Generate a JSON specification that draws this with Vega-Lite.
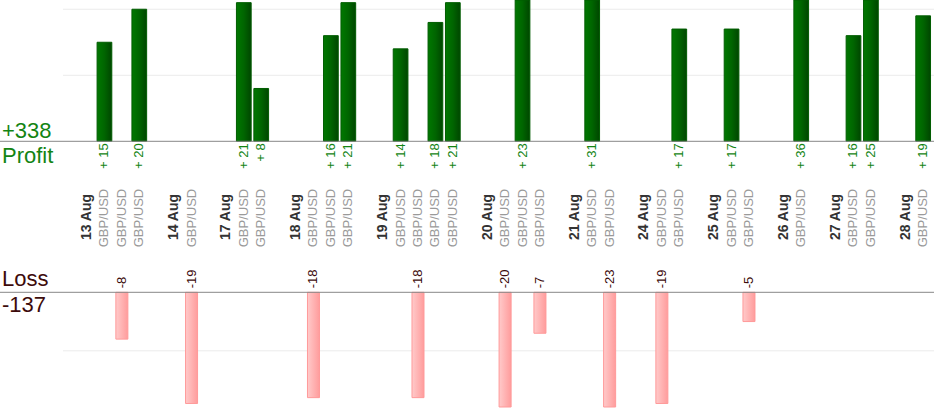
{
  "$schema": "https://vega.github.io/schema/vega-lite/v6.json",
  "width": 934,
  "height": 420,
  "autosize": {"type": "none"},
  "padding": 0,
  "config": {"view": {"stroke": null}, "font": "Liberation Sans"},
  "data": {
    "values": [
      {"s": "13 Aug", "kind": "date", "label": "13 Aug"},
      {"s": "13 Aug #1", "kind": "trade", "label": "GBP/USD", "pl": 15},
      {"s": "13 Aug #2", "kind": "trade", "label": "GBP/USD", "pl": -8},
      {"s": "13 Aug #3", "kind": "trade", "label": "GBP/USD", "pl": 20},
      {"s": "14 Aug", "kind": "date", "label": "14 Aug"},
      {"s": "14 Aug #1", "kind": "trade", "label": "GBP/USD", "pl": -19},
      {"s": "17 Aug", "kind": "date", "label": "17 Aug"},
      {"s": "17 Aug #1", "kind": "trade", "label": "GBP/USD", "pl": 21},
      {"s": "17 Aug #2", "kind": "trade", "label": "GBP/USD", "pl": 8},
      {"s": "18 Aug", "kind": "date", "label": "18 Aug"},
      {"s": "18 Aug #1", "kind": "trade", "label": "GBP/USD", "pl": -18},
      {"s": "18 Aug #2", "kind": "trade", "label": "GBP/USD", "pl": 16},
      {"s": "18 Aug #3", "kind": "trade", "label": "GBP/USD", "pl": 21},
      {"s": "19 Aug", "kind": "date", "label": "19 Aug"},
      {"s": "19 Aug #1", "kind": "trade", "label": "GBP/USD", "pl": 14},
      {"s": "19 Aug #2", "kind": "trade", "label": "GBP/USD", "pl": -18},
      {"s": "19 Aug #3", "kind": "trade", "label": "GBP/USD", "pl": 18},
      {"s": "19 Aug #4", "kind": "trade", "label": "GBP/USD", "pl": 21},
      {"s": "20 Aug", "kind": "date", "label": "20 Aug"},
      {"s": "20 Aug #1", "kind": "trade", "label": "GBP/USD", "pl": -20},
      {"s": "20 Aug #2", "kind": "trade", "label": "GBP/USD", "pl": 23},
      {"s": "20 Aug #3", "kind": "trade", "label": "GBP/USD", "pl": -7},
      {"s": "21 Aug", "kind": "date", "label": "21 Aug"},
      {"s": "21 Aug #1", "kind": "trade", "label": "GBP/USD", "pl": 31},
      {"s": "21 Aug #2", "kind": "trade", "label": "GBP/USD", "pl": -23},
      {"s": "24 Aug", "kind": "date", "label": "24 Aug"},
      {"s": "24 Aug #1", "kind": "trade", "label": "GBP/USD", "pl": -19},
      {"s": "24 Aug #2", "kind": "trade", "label": "GBP/USD", "pl": 17},
      {"s": "25 Aug", "kind": "date", "label": "25 Aug"},
      {"s": "25 Aug #1", "kind": "trade", "label": "GBP/USD", "pl": 17},
      {"s": "25 Aug #2", "kind": "trade", "label": "GBP/USD", "pl": -5},
      {"s": "26 Aug", "kind": "date", "label": "26 Aug"},
      {"s": "26 Aug #1", "kind": "trade", "label": "GBP/USD", "pl": 36},
      {"s": "27 Aug", "kind": "date", "label": "27 Aug"},
      {"s": "27 Aug #1", "kind": "trade", "label": "GBP/USD", "pl": 16},
      {"s": "27 Aug #2", "kind": "trade", "label": "GBP/USD", "pl": 25},
      {"s": "28 Aug", "kind": "date", "label": "28 Aug"},
      {"s": "28 Aug #1", "kind": "trade", "label": "GBP/USD", "pl": 19}
    ]
  },
  "encoding": {
    "x": {
      "field": "s",
      "type": "nominal",
      "axis": null,
      "scale": {
        "type": "band",
        "domain": ["start", "13 Aug", "13 Aug #1", "13 Aug #2", "13 Aug #3", "13 Aug end", "14 Aug", "14 Aug #1", "14 Aug end", "17 Aug", "17 Aug #1", "17 Aug #2", "17 Aug end", "18 Aug", "18 Aug #1", "18 Aug #2", "18 Aug #3", "18 Aug end", "19 Aug", "19 Aug #1", "19 Aug #2", "19 Aug #3", "19 Aug #4", "19 Aug end", "20 Aug", "20 Aug #1", "20 Aug #2", "20 Aug #3", "20 Aug end", "21 Aug", "21 Aug #1", "21 Aug #2", "21 Aug end", "24 Aug", "24 Aug #1", "24 Aug #2", "24 Aug end", "25 Aug", "25 Aug #1", "25 Aug #2", "25 Aug end", "26 Aug", "26 Aug #1", "26 Aug end", "27 Aug", "27 Aug #1", "27 Aug #2", "27 Aug end", "28 Aug", "28 Aug #1", "28 Aug end"],
        "range": [60.9, 949.3],
        "paddingInner": 0,
        "paddingOuter": 0
      }
    }
  },
  "layer": [
    {
      "data": {"values": [{"tick": 10}, {"tick": 20}]},
      "mark": {"type": "rule", "color": "#ebebeb", "strokeWidth": 1},
      "encoding": {
        "x": {"value": 63},
        "x2": {"value": 934},
        "y": {"field": "tick", "type": "quantitative", "axis": null, "scale": {"domain": [0, 21.4], "range": [141.3, 0], "nice": false, "zero": false}}
      }
    },
    {
      "data": {"values": [{"tick": -10}]},
      "mark": {"type": "rule", "color": "#ebebeb", "strokeWidth": 1},
      "encoding": {
        "x": {"value": 63},
        "x2": {"value": 934},
        "y": {"field": "tick", "type": "quantitative", "axis": null, "scale": {"domain": [-19.6, 0], "range": [407, 292.3], "nice": false, "zero": false}}
      }
    },
    {
      "transform": [{"filter": "datum.pl > 0"}],
      "mark": {
        "type": "bar",
        "width": {"band": 0.845},
        "stroke": "#005c00",
        "strokeWidth": 1,
        "color": {
          "gradient": "linear",
          "x1": 0, "y1": 0, "x2": 1, "y2": 0,
          "stops": [
            {"offset": 0, "color": "#007800"},
            {"offset": 0.5, "color": "#006500"},
            {"offset": 1, "color": "#004600"}
          ]
        }
      },
      "encoding": {
        "y": {"field": "pl", "type": "quantitative", "stack": null, "axis": null, "scale": {"domain": [0, 21.4], "range": [141.3, 0], "clamp": true, "nice": false, "zero": false}}
      }
    },
    {
      "transform": [{"filter": "datum.pl < 0"}],
      "mark": {
        "type": "bar",
        "width": {"band": 0.69},
        "stroke": "#ff9a9a",
        "strokeWidth": 1,
        "color": {
          "gradient": "linear",
          "x1": 0, "y1": 0, "x2": 1, "y2": 0,
          "stops": [
            {"offset": 0, "color": "#ffcaca"},
            {"offset": 1, "color": "#ff9c9c"}
          ]
        }
      },
      "encoding": {
        "y": {"field": "pl", "type": "quantitative", "stack": null, "axis": null, "scale": {"domain": [-19.6, 0], "range": [407, 292.3], "clamp": true, "nice": false, "zero": false}}
      }
    },
    {
      "data": {"values": [{"base": 0}]},
      "mark": {"type": "rule", "color": "#888888", "strokeWidth": 1},
      "encoding": {
        "x": {"value": 0},
        "x2": {"value": 934},
        "y": {"field": "base", "type": "quantitative", "axis": null, "scale": {"domain": [0, 21.4], "range": [141.3, 0], "nice": false, "zero": false}}
      }
    },
    {
      "data": {"values": [{"base": 0}]},
      "mark": {"type": "rule", "color": "#888888", "strokeWidth": 1},
      "encoding": {
        "x": {"value": 0},
        "x2": {"value": 934},
        "y": {"field": "base", "type": "quantitative", "axis": null, "scale": {"domain": [-19.6, 0], "range": [407, 292.3], "nice": false, "zero": false}}
      }
    },
    {
      "transform": [
        {"filter": "datum.pl > 0"},
        {"calculate": "'+ ' + datum.pl", "as": "plText"}
      ],
      "mark": {"type": "text", "angle": 270, "align": "right", "baseline": "middle", "dx": -2, "y": 141.3, "fontSize": 13, "color": "#138413"},
      "encoding": {
        "text": {"field": "plText", "type": "nominal"}
      }
    },
    {
      "transform": [
        {"filter": "datum.pl < 0"},
        {"calculate": "'' + datum.pl", "as": "plText"}
      ],
      "mark": {"type": "text", "angle": 270, "align": "left", "baseline": "middle", "dx": 4, "y": 292.3, "fontSize": 13, "color": "#3d0b0b"},
      "encoding": {
        "text": {"field": "plText", "type": "nominal"}
      }
    },
    {
      "transform": [{"filter": "datum.kind == 'date'"}],
      "mark": {"type": "text", "angle": 270, "align": "center", "baseline": "middle", "y": 217, "fontSize": 14, "fontWeight": "bold", "color": "#333333"},
      "encoding": {
        "text": {"field": "label", "type": "nominal"}
      }
    },
    {
      "transform": [{"filter": "datum.kind == 'trade'"}],
      "mark": {"type": "text", "angle": 270, "align": "center", "baseline": "middle", "y": 218, "fontSize": 13, "color": "#9a9a9a"},
      "encoding": {
        "text": {"field": "label", "type": "nominal"}
      }
    },
    {
      "transform": [
        {"filter": "datum.pl > 0"},
        {"aggregate": [{"op": "sum", "field": "pl", "as": "total"}], "groupby": []},
        {"calculate": "'+' + datum.total", "as": "line1"}
      ],
      "mark": {"type": "text", "align": "left", "baseline": "alphabetic", "y": 137.8, "fontSize": 22, "color": "#138413"},
      "encoding": {
        "x": {"value": 2},
        "text": {"field": "line1", "type": "nominal"}
      }
    },
    {
      "transform": [
        {"filter": "datum.pl > 0"},
        {"aggregate": [{"op": "count", "as": "n"}], "groupby": []}
      ],
      "mark": {"type": "text", "align": "left", "baseline": "alphabetic", "y": 163.3, "fontSize": 22, "color": "#138413", "text": "Profit"},
      "encoding": {
        "x": {"value": 2}
      }
    },
    {
      "transform": [
        {"filter": "datum.pl < 0"},
        {"aggregate": [{"op": "count", "as": "n"}], "groupby": []}
      ],
      "mark": {"type": "text", "align": "left", "baseline": "alphabetic", "y": 286.3, "fontSize": 22, "color": "#3d0b0b", "text": "Loss"},
      "encoding": {
        "x": {"value": 2}
      }
    },
    {
      "transform": [
        {"filter": "datum.pl < 0"},
        {"aggregate": [{"op": "sum", "field": "pl", "as": "total"}], "groupby": []},
        {"calculate": "'' + datum.total", "as": "line1"}
      ],
      "mark": {"type": "text", "align": "left", "baseline": "alphabetic", "y": 312.3, "fontSize": 22, "color": "#3d0b0b"},
      "encoding": {
        "x": {"value": 2},
        "text": {"field": "line1", "type": "nominal"}
      }
    }
  ],
  "resolve": {"scale": {"y": "independent"}}
}
